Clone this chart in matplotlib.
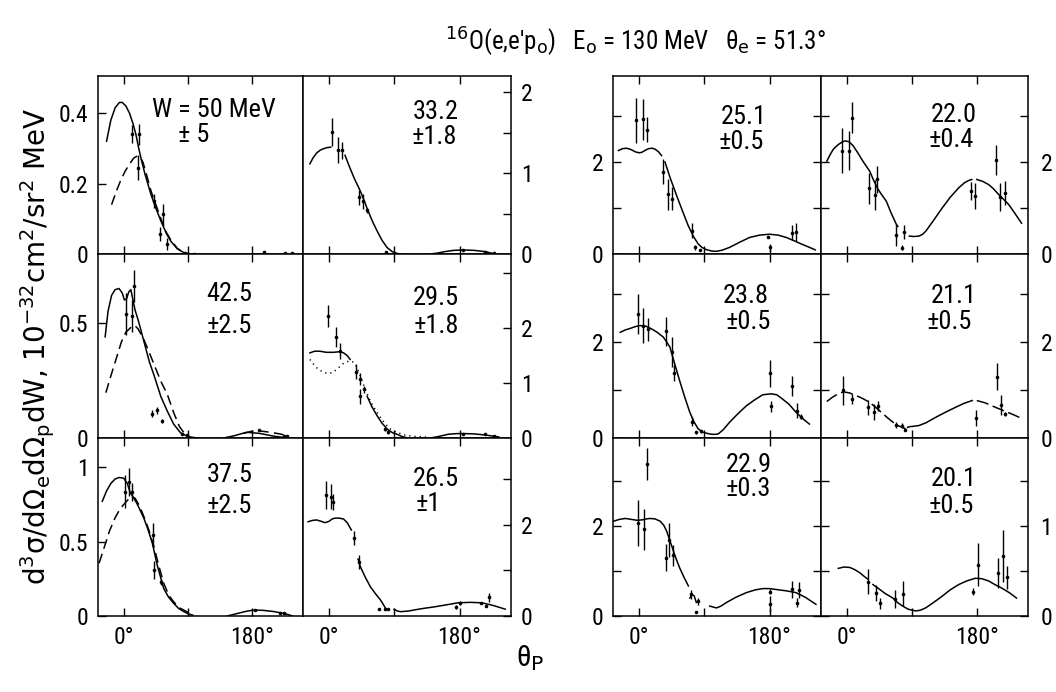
import numpy as np
import matplotlib
matplotlib.use("Agg")
import matplotlib.pyplot as plt
from matplotlib import font_manager

nan = np.nan

# ---- W = 50 MeV ----
w50_solid_x = [-24, -18, -12, -6, -2, 3, 8, 13, 17, 21, 25, 30, 38, 45, 52, 60, 66, 75, 84, 95]
w50_solid_y = [0.32, 0.38, 0.415, 0.43, 0.43, 0.42, 0.40, 0.37, 0.34, 0.30, 0.265, 0.225, 0.17, 0.13, 0.094, 0.057, 0.036, 0.015, 0.004, 0.0]
w50_dash_x = [-17, -10, -4, 2, 8, 14, 19, 23, 27, 32, 38, 45, 52, 60, 66, 75, 84]
w50_dash_y = [0.14, 0.18, 0.21, 0.235, 0.255, 0.272, 0.278, 0.275, 0.26, 0.225, 0.18, 0.14, 0.10, 0.06, 0.04, 0.016, 0.004]
w50_pt_x = [12, 22, 20, 42, 55, 51, 61, 86, 98, 196, 226, 235]
w50_pt_y = [0.34, 0.34, 0.245, 0.15, 0.113, 0.058, 0.027, 0.003, 0.001, 0.005, 0.004, 0.004]
w50_pt_err = [0.025, 0.03, 0.035, 0.02, 0.03, 0.02, 0.017, 0, 0, 0, 0, 0]

# ---- W = 33.2 MeV ----
w33_solid_x = [-26.5, -22, -17, -12, -8, -3, 2.3, nan,
               22, 28, 35, 43, 48, 53, 60, 66.5, 73, 80, 87, 94, 100, nan,
               140, 150, 160, 172, 185, 200, 215, 229]
w33_solid_y = [1.115, 1.19, 1.25, 1.285, 1.30, 1.315, 1.32, nan,
               1.22, 1.08, 0.93, 0.78, 0.67, 0.55, 0.40, 0.28, 0.17, 0.08, 0.03, 0.005, 0.0, nan,
               0.0, 0.012, 0.03, 0.045, 0.05, 0.045, 0.03, 0.0]
w33_pt_x = [3.7, 12, 17.7, 41, 46.5, 52.5, 79, 92, 185, 215, 227]
w33_pt_y = [1.51, 1.28, 1.28, 0.70, 0.65, 0.54, 0.03, 0.005, 0.05, 0.03, 0.01]
w33_pt_err = [0.175, 0.16, 0.11, 0.09, 0.09, 0.03, 0, 0, 0, 0, 0]

# ---- W = 42.5 MeV ----
w42_solid_x = [-26, -22, -17, -12, -6.5, -2, 1, 4, 7, 10, 13, 16, 20, 24, 30, 36, 42, 52, 61, 70, 79.5, 90, 103, nan,
               140, 155, 172, 190, 210, 230]
w42_solid_y = [0.44, 0.55, 0.62, 0.645, 0.65, 0.63, 0.6, 0.605, 0.635, 0.645, 0.60, 0.555, 0.515, 0.47, 0.40, 0.33, 0.277, 0.18, 0.117, 0.06, 0.023, 0.006, 0.0, nan,
               0.0, 0.01, 0.025, 0.02, 0.008, 0.0]
w42_dash_x = [-25, -18, -10, -3, 3, 9.8, 15, 20, 28, 36, 45, 53, 61, 70, 78, 85, 92, nan,
              168, 180, 192, 205, 218, 230]
w42_dash_y = [0.197, 0.27, 0.35, 0.42, 0.46, 0.48, 0.49, 0.475, 0.43, 0.37, 0.30, 0.24, 0.19, 0.11, 0.05, 0.02, 0.005, nan,
              0.02, 0.03, 0.03, 0.025, 0.018, 0.01]
w42_pt_x = [3, 11, 14, 40, 47, 53, 82, 88, 189, 224, 228]
w42_pt_y = [0.54, 0.53, 0.66, 0.106, 0.12, 0.074, 0.019, 0.015, 0.033, 0.01, 0.008]
w42_pt_err = [0.09, 0.07, 0.07, 0.015, 0.015, 0.01, 0, 0, 0, 0, 0]

# ---- W = 29.5 MeV ----
w29_solid_x = [-26.5, -20, -12.6, -4, 6, 14, 20, 25, 29, nan,
               52.5, 59, 66.5, 73, 80.5, 87, 94, 100, 108, nan,
               141, 152, 164, 176, 187, 200, 215, 234]
w29_solid_y = [1.55, 1.58, 1.58, 1.56, 1.56, 1.57, 1.55, 1.5, 1.43, nan,
               0.76, 0.57, 0.40, 0.27, 0.16, 0.10, 0.067, 0.03, 0.0, nan,
               0.0, 0.03, 0.067, 0.08, 0.08, 0.075, 0.055, 0.02]
w29_dot_x = [-26.5, -20, -15, -8, -1, 6, 13, 20, 27, 32, 36, 41, 45.6, 51, 57, 64, 71, 78, 85, 94, 103.6, 115, 131.6, 141]
w29_dot_y = [1.43, 1.32, 1.25, 1.2, 1.17, 1.2, 1.28, 1.36, 1.4, 1.39, 1.35, 1.2, 1.04, 0.85, 0.67, 0.51, 0.37, 0.25, 0.16, 0.1, 0.055, 0.03, 0.02, 0.0]
w29_pt_x = [-1, 9.3, 14.4, 37.7, 43, 48.8, 42.3, 77, 81.3, 143, 185, 215, 227]
w29_pt_y = [2.22, 1.84, 1.58, 1.21, 1.08, 0.885, 0.76, 0.16, 0.11, 0.0, 0.067, 0.067, 0.03]
w29_pt_err = [0.2, 0.18, 0.15, 0.13, 0.11, 0.06, 0.14, 0.04, 0.03, 0, 0, 0, 0]

# ---- W = 37.5 MeV ----
w37_solid_x = [-30, -24, -18, -12, -6.5, 0, 5, 9, 13, 18, 23, 28.3, 34, 40, 47, 56, 63, 70, 77, 84, 90, 97, nan,
               145, 160, 172, 182, 195, 210, 219, 230, 236]
w37_solid_y = [0.77, 0.84, 0.89, 0.92, 0.93, 0.925, 0.89, 0.83, 0.80, 0.76, 0.71, 0.655, 0.58, 0.49, 0.34, 0.185, 0.125, 0.085, 0.05, 0.03, 0.015, 0.005, nan,
               0.0, 0.018, 0.032, 0.04, 0.038, 0.03, 0.022, 0.01, 0.0]
w37_dash_x = [-34.5, -28, -20, -12, -5, 2, 8, 12, 16, 22, 28, 35, 42, 49, 56, 63, 70, 78, 88, 96]
w37_dash_y = [0.354, 0.45, 0.57, 0.66, 0.72, 0.76, 0.79, 0.80, 0.79, 0.74, 0.67, 0.58, 0.47, 0.34, 0.22, 0.14, 0.095, 0.055, 0.03, 0.005]
w37_pt_x = [1.4, 7, 12, 40.4, 43, 51.6, 184, 219, 225]
w37_pt_y = [0.834, 0.9, 0.83, 0.544, 0.31, 0.23, 0.04, 0.022, 0.02]
w37_pt_err = [0.11, 0.095, 0.06, 0.08, 0.06, 0.02, 0, 0, 0]

# ---- W = 26.5 MeV ----
w26_solid_x = [-29, -23, -17, -11, -5.6, 0, 4, 8.4, 14, 20, 25, 30.7, nan,
               40, 43.2, 50, 57, 64, 71, 78, nan,
               89.7, 94, 99, 110, 120, 131.6, 145, 160, 178, 195, 210.6, 224.5, 235, 243]
w26_solid_y = [2.07, 2.1, 2.11, 2.08, 2.05, 2.08, 2.13, 2.15, 2.15, 2.13, 2.05, 1.89, nan,
               1.25, 1.08, 0.85, 0.64, 0.49, 0.35, 0.17, nan,
               0.147, 0.11, 0.095, 0.11, 0.14, 0.17, 0.2, 0.24, 0.29, 0.3, 0.29, 0.24, 0.19, 0.15]
w26_pt_x = [-4.6, 2.3, 5.1, 34, 41.8, 68.8, 77, 81, 175.7, 180, 210, 220, 217]
w26_pt_y = [2.66, 2.62, 2.5, 1.71, 1.19, 0.147, 0.15, 0.147, 0.2, 0.29, 0.29, 0.41, 0.23]
w26_pt_err = [0.31, 0.27, 0.18, 0.16, 0.16, 0, 0, 0, 0.05, 0.05, 0, 0.1, 0]

# ---- W = 25.1 MeV ----
w25_solid_x = [-28.4, -23, -17, -11, -5, 0, 3.7, 8, 13, 18, 22, 27, 31, nan,
               35.7, 43, 51.8, 60, 67.7, 75, 81.5, 87, 93, 100, 106.7, 115, 125, 138, 152.5, 166, 180, 192, 203, 215, 225, 235, 243]
w25_solid_y = [2.25, 2.29, 2.3, 2.27, 2.22, 2.2, 2.21, 2.25, 2.29, 2.3, 2.28, 2.22, 2.14, nan,
               2.0, 1.65, 1.27, 0.93, 0.62, 0.38, 0.22, 0.14, 0.094, 0.065, 0.058, 0.085, 0.145, 0.25, 0.36, 0.41, 0.43, 0.41, 0.36, 0.28, 0.21, 0.145, 0.09]
w25_pt_x = [-4, 5, 10.5, 33.4, 40, 45.8, 72.4, 77, 84, 177.6, 181, 211, 216.6]
w25_pt_y = [2.91, 2.93, 2.7, 1.79, 1.3, 1.2, 0.51, 0.145, 0.087, 0.38, 0.145, 0.46, 0.48]
w25_pt_err = [0.49, 0.45, 0.27, 0.27, 0.34, 0.25, 0.16, 0.05, 0, 0, 0.08, 0.16, 0.2]

# ---- W = 22.0 MeV ----
w22_solid_x = [-27.9, -23, -18.8, -12, -6, -2.7, 3, 8.7, 15, 22, 31.6, 37, 43, 49, 54.5, 61, 68.3, 70.5, nan,
               86.5, 93, 100, 105, 109.5, 120, 132, 143, 155, 163, 169, 173, nan,
               180, 188, 196.4, 203, 210, 217, 224, 233, 242]
w22_solid_y = [2.02, 2.17, 2.28, 2.38, 2.44, 2.46, 2.44, 2.35, 2.2, 2.02, 1.8, 1.6, 1.41, 1.27, 1.15, 0.9, 0.65, 0.6, nan,
               0.39, 0.38, 0.39, 0.43, 0.5, 0.73, 1.0, 1.23, 1.44, 1.55, 1.6, 1.62, nan,
               1.62, 1.58, 1.51, 1.42, 1.3, 1.19, 1.08, 0.88, 0.67]
w22_pt_x = [-7.3, 3.2, 7.3, 30.6, 39.4, 42, 68.3, 76, 78.7, 172, 178, 207, 212.5, 219]
w22_pt_y = [2.25, 2.25, 2.96, 1.43, 1.28, 1.62, 0.41, 0.14, 0.48, 1.37, 1.26, 2.04, 1.24, 1.33]
w22_pt_err = [0.49, 0.42, 0.34, 0.34, 0.33, 0.3, 0.24, 0.05, 0.16, 0.2, 0.29, 0.33, 0.3, 0.26]

# ---- W = 23.8 MeV ----
w238_solid_x = [-26, -19, -12.4, -5, 1.4, 9, 17.4, 25, 33.4, 38, 42.6, 49, 56, 63, 70, 76, 81.5, 88, 97.5, 103, 109, 116,
                125, 136, 148, 160, 170.7, 182, 190, 198, 207, 216.6, 226, 235]
w238_solid_y = [2.2, 2.25, 2.28, 2.32, 2.34, 2.33, 2.27, 2.2, 2.1, 2.0, 1.89, 1.55, 1.19, 0.85, 0.535, 0.33, 0.19, 0.12, 0.083, 0.075, 0.083, 0.17,
                0.33, 0.5, 0.67, 0.8, 0.9, 0.92, 0.9, 0.81, 0.7, 0.535, 0.4, 0.29]
w238_pt_x = [-1, 6, 12, 37, 45, 48, 72.4, 78.3, 85, 181, 182, 211, 218, 223.5]
w238_pt_y = [2.58, 2.34, 2.26, 2.22, 1.79, 1.35, 0.34, 0.12, 0.14, 1.35, 0.66, 1.09, 0.57, 0.44]
w238_pt_err = [0.42, 0.36, 0.24, 0.3, 0.31, 0.17, 0.1, 0.03, 0.03, 0.28, 0.12, 0.21, 0.16, 0.05]

# ---- W = 21.1 MeV ----
w21_dash_x = [-28, -20, -12, -5, 3, 13.3, 22, 31.6, 38, 45, 54, 63.6, 70, 77.3, 81, nan,
              180, 192, 205.6, 217, 228.5, 242]
w21_dash_y = [0.76, 0.85, 0.92, 0.96, 0.94, 0.88, 0.82, 0.74, 0.66, 0.57, 0.45, 0.33, 0.26, 0.22, 0.19, nan,
              0.78, 0.73, 0.64, 0.57, 0.5, 0.41]
w21_solid_x = [84, 86.5, 93, 100, 110, 123, 137, 150.7, 162, 173.6]
w21_solid_y = [0.22, 0.235, 0.245, 0.26, 0.32, 0.43, 0.54, 0.64, 0.72, 0.78]
w21_pt_x = [-6, 6.4, 29, 37.6, 43, 68.3, 76.5, 81, 179, 208, 214, 219.4]
w21_pt_y = [0.99, 0.81, 0.64, 0.535, 0.67, 0.27, 0.26, 0.17, 0.41, 1.28, 0.69, 0.5]
w21_pt_err = [0.3, 0.1, 0.16, 0.17, 0.1, 0.07, 0.05, 0.03, 0.17, 0.28, 0.21, 0.05]

# ---- W = 22.9 MeV ----
w229_solid_x = [-35, -27, -19, -11, -3, 5, 10, 15, 22, 29, 34, 38, 45, 50, 56, 62, 68, nan,
                70, 73, 76, 79, nan,
                97.5, 102, 106.7, 113, 120.5, 134, 148, 160, 170.7, 180, 189, 203, 216.6, 230, 244]
w229_solid_y = [2.11, 2.15, 2.17, 2.15, 2.13, 2.14, 2.16, 2.17, 2.16, 2.11, 2.02, 1.89, 1.56, 1.32, 1.07, 0.86, 0.67, nan,
                0.40, 0.47, 0.45, 0.3, nan,
                0.22, 0.2, 0.18, 0.22, 0.3, 0.42, 0.52, 0.58, 0.61, 0.61, 0.59, 0.56, 0.52, 0.41, 0.26]
w229_pt_x = [-1, 7.3, 10.5, 36.6, 41, 47, 72.3, 80.6, 78, 180, 181, 211, 220, 218]
w229_pt_y = [2.07, 1.93, 3.38, 1.3, 1.69, 1.35, 0.48, 0.33, 0.1, 0.54, 0.26, 0.59, 0.57, 0.3]
w229_pt_err = [0.52, 0.46, 0.35, 0.3, 0.37, 0.24, 0.1, 0.08, 0, 0.05, 0.18, 0.18, 0.18, 0.1]

# ---- W = 20.1 MeV ----
w20_solid_x = [-12, -4, 4, 11, 17.9, 24, 29, nan,
               36, 43, 53, 63.6, 70, 77.3, 85, 95.7, 102, 109.5, 120, 132, 143, 155, 166, 178, 187, 196.4, 205, 214.7, 225, 235]
w20_solid_y = [0.53, 0.545, 0.54, 0.515, 0.48, 0.44, 0.41, nan,
               0.35, 0.31, 0.25, 0.2, 0.15, 0.11, 0.075, 0.056, 0.065, 0.092, 0.15, 0.22, 0.29, 0.35, 0.39, 0.42, 0.415, 0.39, 0.35, 0.31, 0.26, 0.2]
w20_pt_x = [29, 40, 46, 67, 78, 175, 181, 209, 215.7, 222]
w20_pt_y = [0.38, 0.26, 0.14, 0.19, 0.25, 0.27, 0.57, 0.48, 0.67, 0.43]
w20_pt_err = [0.14, 0.09, 0.06, 0.1, 0.14, 0.04, 0.24, 0.17, 0.29, 0.13]

x_ticks = [0, 90, 180]
x_ticklabels = ["0°", "", "180°"]

# ---------------------------------------------------------------------------
# Prefer a narrow sans face for the lettering when one is installed.
FONT = "DejaVu Sans"
STRETCH = "normal"
_entries = font_manager.fontManager.ttflist
_names = {f.name for f in _entries}
for cand in ["Liberation Sans Narrow", "Noto Sans Condensed", "DejaVu Sans Condensed",
             "Roboto Condensed", "Open Sans Condensed", "Arial Narrow"]:
    if cand in _names:
        FONT = cand
        break
else:
    for fam in ["Noto Sans", "DejaVu Sans", "Open Sans", "Roboto"]:
        hits = [f for f in _entries if f.name == fam and f.style == "normal"
                and str(f.stretch) in ("condensed", "semi-condensed")]
        if hits:
            FONT = fam
            STRETCH = str(hits[0].stretch)
            break

plt.rcParams["font.family"] = [FONT, "DejaVu Sans"]
plt.rcParams["font.stretch"] = STRETCH
plt.rcParams["mathtext.fontset"] = "dejavusans"

W, H = 1056, 692
fig = plt.figure(figsize=(W / 100, H / 100), dpi=100)

COLS = [(98, 303), (303, 511), (613, 821), (821, 1028)]
ROWS = [(76, 254), (254, 438), (438, 616)]

SOLID = "-"
DASH = (0, (6.5, 3.5))
LONGDASH = (0, (8, 3))
DOT = (0, (0.8, 2.6))

LABEL_SIZE = 19
TICK_SIZE = 17


def make_axes(col, row):
    x0, x1 = COLS[col]
    yt, yb = ROWS[row]
    return fig.add_axes([x0 / W, 1 - yb / H, (x1 - x0) / W, (yb - yt) / H])


def panel(col, row, curves, px, py, perr, ylim, yticks, ylabels, lab1, lab2, pos1, pos2):
    ax = make_axes(col, row)
    for cx, cy, ls in curves:
        ax.plot(cx, cy, color="k", lw=1.1, ls=ls, dash_capstyle="butt")
    ax.errorbar(px, py, yerr=perr, fmt="o", ms=2.6, color="k",
                elinewidth=1.0, capsize=0, mew=0)
    ax.set_xlim(-36, 251)
    ax.set_ylim(*ylim)
    ax.set_xticks(x_ticks)
    if row == 2:
        ax.set_xticklabels(x_ticklabels, fontsize=TICK_SIZE)
    else:
        ax.set_xticklabels([])
    ax.tick_params(axis="x", direction="in", length=6, width=1.0, top=True,
                   bottom=True, pad=7)
    ax.set_yticks(yticks)
    ax.set_yticklabels(ylabels, fontsize=TICK_SIZE)
    if col == 0:
        ax.tick_params(axis="y", direction="in", length=6, width=1.0,
                       left=True, right=False, labelleft=True, pad=7)
    elif col == 1:
        ax.tick_params(axis="y", direction="in", length=6, width=1.0,
                       left=False, right=True, labelleft=False, labelright=True, pad=7)
    elif col == 2:
        ax.tick_params(axis="y", direction="in", length=6, width=1.0,
                       left=True, right=True, labelleft=True, pad=7)
    else:
        ax.tick_params(axis="y", direction="in", length=6, width=1.0,
                       left=True, right=True, labelleft=False, labelright=True, pad=9)
    for s in ax.spines.values():
        s.set_linewidth(1.1)
    ax.text(pos1[0], pos1[1], lab1, transform=ax.transAxes, fontsize=LABEL_SIZE,
            ha="left", va="center")
    ax.text(pos2[0], pos2[1], lab2, transform=ax.transAxes, fontsize=LABEL_SIZE,
            ha="left", va="center")
    return ax


panel(0, 0, [(w50_solid_x, w50_solid_y, SOLID), (w50_dash_x, w50_dash_y, DASH)],
      w50_pt_x, w50_pt_y, w50_pt_err, (0, 0.505), [0, 0.2, 0.4], ["0", "0.2", "0.4"],
      "W = 50 MeV", "± 5", (0.263, 0.81), (0.39, 0.667))
panel(1, 0, [(w33_solid_x, w33_solid_y, SOLID)],
      w33_pt_x, w33_pt_y, w33_pt_err, (0, 2.2), [0, 0.5, 1, 1.5, 2], ["0", "", "1", "", "2"],
      "33.2", "±1.8", (0.53, 0.80), (0.524, 0.66))
panel(0, 1, [(w42_solid_x, w42_solid_y, SOLID), (w42_dash_x, w42_dash_y, DASH)],
      w42_pt_x, w42_pt_y, w42_pt_err, (0, 0.8), [0, 0.5], ["0", "0.5"],
      "42.5", "±2.5", (0.53, 0.78), (0.53, 0.61))
panel(1, 1, [(w29_solid_x, w29_solid_y, SOLID), (w29_dot_x, w29_dot_y, DOT)],
      w29_pt_x, w29_pt_y, w29_pt_err, (0, 3.35), [0, 1, 2, 3], ["0", "1", "2", ""],
      "29.5", "±1.8", (0.53, 0.76), (0.53, 0.61))
panel(0, 2, [(w37_solid_x, w37_solid_y, SOLID), (w37_dash_x, w37_dash_y, DASH)],
      w37_pt_x, w37_pt_y, w37_pt_err, (0, 1.195), [0, 0.5, 1], ["0", "0.5", "1"],
      "37.5", "±2.5", (0.53, 0.79), (0.53, 0.62))
panel(1, 2, [(w26_solid_x, w26_solid_y, SOLID)],
      w26_pt_x, w26_pt_y, w26_pt_err, (0, 3.91), [0, 1, 2, 3], ["0", "", "2", ""],
      "26.5", "±1", (0.53, 0.77), (0.54, 0.63))

panel(2, 0, [(w25_solid_x, w25_solid_y, SOLID)],
      w25_pt_x, w25_pt_y, w25_pt_err, (0, 3.87), [0, 1, 2, 3], ["0", "", "2", ""],
      "25.1", "±0.5", (0.52, 0.77), (0.51, 0.63))
panel(3, 0, [(w22_solid_x, w22_solid_y, SOLID)],
      w22_pt_x, w22_pt_y, w22_pt_err, (0, 3.87), [0, 1, 2, 3], ["0", "", "2", ""],
      "22.0", "±0.4", (0.53, 0.78), (0.52, 0.64))
panel(2, 1, [(w238_solid_x, w238_solid_y, SOLID)],
      w238_pt_x, w238_pt_y, w238_pt_err, (0, 3.83), [0, 1, 2, 3], ["0", "", "2", ""],
      "23.8", "±0.5", (0.53, 0.77), (0.54, 0.63))
panel(3, 1, [(w21_dash_x, w21_dash_y, LONGDASH), (w21_solid_x, w21_solid_y, SOLID)],
      w21_pt_x, w21_pt_y, w21_pt_err, (0, 3.83), [0, 1, 2, 3], ["0", "", "2", ""],
      "21.1", "±0.5", (0.53, 0.77), (0.51, 0.63))
panel(2, 2, [(w229_solid_x, w229_solid_y, SOLID)],
      w229_pt_x, w229_pt_y, w229_pt_err, (0, 3.96), [0, 1, 2, 3], ["0", "", "2", ""],
      "22.9", "±0.3", (0.54, 0.85), (0.54, 0.715))
panel(3, 2, [(w20_solid_x, w20_solid_y, SOLID)],
      w20_pt_x, w20_pt_y, w20_pt_err, (0, 1.98), [0, 0.5, 1, 1.5], ["0", "", "1", ""],
      "20.1", "±0.5", (0.53, 0.77), (0.52, 0.62))

# Titles and axis labels
fig.text(636 / W, 1 - 42 / H,
         "$^{16}$O(e,e'p$_{\\rm o}$)   E$_{\\rm o}$ = 130 MeV   θ$_{\\rm e}$ = 51.3°",
         fontsize=18, ha="center", va="center")
fig.text(38 / W, 1 - 346 / H,
         "d$^3$σ/dΩ$_{\\rm e}$dΩ$_{\\rm p}$dW, 10$^{-32}$cm$^2$/sr$^2$ MeV",
         fontsize=20, family="DejaVu Sans", stretch="normal",
         rotation=90, ha="center", va="center")
fig.text(530 / W, 1 - 658 / H, "θ$_{\\rm P}$", fontsize=21, ha="center", va="center")

fig.savefig("out.png", dpi=100)
